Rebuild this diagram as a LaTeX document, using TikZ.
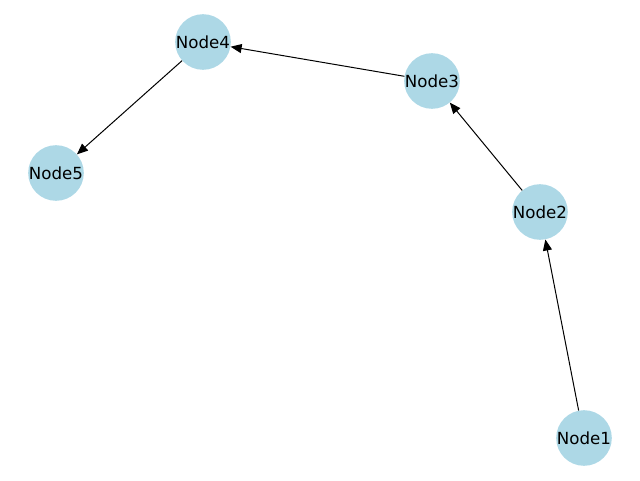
\documentclass[tikz,border=0pt]{standalone}
\usepackage{fontspec}
\setmainfont{DejaVu Sans}
\usetikzlibrary{arrows.meta}
\begin{document}
\begin{tikzpicture}[x=1pt,y=-1pt,
  vertex/.style={circle,fill={rgb,255:red,173;green,216;blue,230},minimum size=54pt,inner sep=0pt,
    font=\fontsize{16.67pt}{18pt}\selectfont},
  link/.style={line width=1pt,-{Triangle[length=11pt,width=9pt]}}]
  \useasboundingbox (0,0) rectangle (640,480);
  \node[vertex] (n1) at (584,438) {Node1};
  \node[vertex] (n2) at (540,212) {Node2};
  \node[vertex] (n3) at (432,81) {Node3};
  \node[vertex] (n4) at (203,42) {Node4};
  \node[vertex] (n5) at (56,173) {Node5};
  \draw[link] (n1) -- (n2);
  \draw[link] (n2) -- (n3);
  \draw[link] (n3) -- (n4);
  \draw[link] (n4) -- (n5);
\end{tikzpicture}
\end{document}
